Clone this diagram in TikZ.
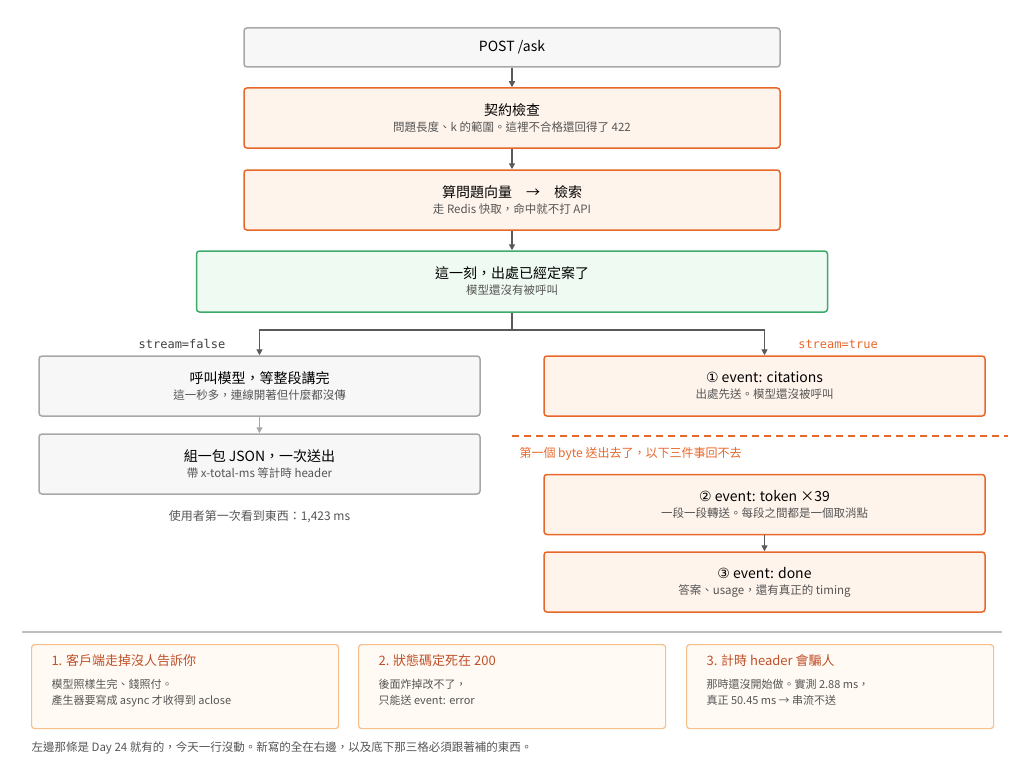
\documentclass[tikz,border=0pt]{standalone}
\usepackage{fontspec}
\setmainfont{Noto Sans CJK TC}
\setmonofont{DejaVu Sans Mono}
\newfontfamily\symfont{DejaVu Sans}
\usetikzlibrary{arrows.meta}
\definecolor{orng}{HTML}{E8672A}
\definecolor{orngfill}{HTML}{FFF4EC}
\definecolor{grayline}{HTML}{A8A8A8}
\definecolor{grayfill}{HTML}{F7F7F7}
\definecolor{grn}{HTML}{3DAA6A}
\definecolor{grnfill}{HTML}{EFFAF2}
\definecolor{cardline}{HTML}{F5C08A}
\definecolor{cardfill}{HTML}{FFFAF3}
\definecolor{cardtitle}{HTML}{C0502A}
\definecolor{subtext}{HTML}{555555}
\newcommand{\ttl}[1]{{\fontsize{14}{17}\selectfont #1}}
\newcommand{\sbt}[1]{{\fontsize{11.5}{14}\selectfont\color{subtext}#1}}
\newcommand{\boxtext}[2]{\ttl{#1}\\[4pt]\sbt{#2}}
\begin{document}
\begin{tikzpicture}[x=1pt,y=-1pt,
    box/.style={rectangle, rounded corners=3pt, draw=orng, fill=orngfill, line width=1.5pt, align=center, minimum width=536pt, minimum height=60pt},
    graybox/.style={box, draw=grayline, fill=grayfill},
    grnbox/.style={box, draw=grn, fill=grnfill, minimum width=631pt, minimum height=61pt},
    sidebox/.style={minimum width=441pt},
    card/.style={rectangle, rounded corners=3pt, draw=cardline, fill=cardfill, line width=1.2pt, minimum width=307pt, minimum height=84pt},
    arr/.style={-{Triangle[length=6pt,width=6pt]}, line width=1.4pt, draw=black!65},
    note/.style={font=\fontsize{12}{14}\selectfont, text=subtext}
]
    \useasboundingbox (0,0) rectangle (1024,773);

    \node[graybox, minimum height=39pt] (post) at (512,47.5) {\ttl{POST /ask}};
    \node[box] (check) at (512,118) {\boxtext{契約檢查}{問題長度、k 的範圍。這裡不合格還回得了 422}};
    \node[box] (embed) at (512,200) {\boxtext{算問題向量\quad →\quad 檢索}{走 Redis 快取，命中就不打 API}};
    \node[grnbox] (fixed) at (512,281.5) {\boxtext{這一刻，出處已經定案了}{模型還沒有被呼叫}};

    \draw[arr] (post) -- (check);
    \draw[arr] (check) -- (embed);
    \draw[arr] (embed) -- (fixed);

    % two branches
    \coordinate (split) at (512,330);
    \node[graybox, sidebox] (call) at (259.5,386) {\boxtext{呼叫模型，等整段講完}{這一秒多，連線開著但什麼都沒傳}};
    \node[graybox, sidebox] (json) at (259.5,464) {\boxtext{組一包 JSON，一次送出}{帶 x-total-ms 等計時 header}};
    \node[box, sidebox] (cite) at (764.5,386) {\boxtext{{\symfont ①} event: citations}{出處先送。模型還沒被呼叫}};
    \node[box, sidebox] (token) at (764.5,504.5) {\boxtext{{\symfont ②} event: token ×39}{一段一段轉送。每段之間都是一個取消點}};
    \node[box, sidebox] (done) at (764.5,582) {\boxtext{{\symfont ③} event: done}{答案、usage，還有真正的 timing}};

    \draw[line width=1.4pt, draw=black!65] (fixed.south) -- (split);
    \draw[arr] (split) -| (call.north);
    \draw[arr] (split) -| (cite.north);
    \draw[arr, draw=grayline] (call) -- (json);
    \draw[arr] (token) -- (done);

    \node[font=\ttfamily\fontsize{12}{14}\selectfont, text=black!75] (lfalse) at (182,344) {stream=false};
    \node[font=\ttfamily\fontsize{12}{14}\selectfont, text=orng] (ltrue) at (838,344) {stream=true};
    \node[note] (firstseen) at (259.5,517) {使用者第一次看到東西：1,423 ms};

    \coordinate (cutl) at (512,436);
    \coordinate (cutr) at (1008,436);
    \draw[orng, line width=1.5pt, dash pattern=on 7pt off 5pt] (cutl) -- (cutr);
    \node[note, text=orng, anchor=west] (firstbyte) at (516,454) {第一個 byte 送出去了，以下三件事回不去};

    % separator and cards
    \coordinate (sepl) at (22,632);
    \coordinate (sepr) at (1002,632);
    \draw[black!25, line width=1.5pt] (sepl) -- (sepr);

    \foreach \n/\x/\t/\a/\b in {
        c1/31/{1. 客戶端走掉沒人告訴你}/{模型照樣生完、錢照付。}/{產生器要寫成 async 才收得到 aclose},
        c2/358/{2. 狀態碼定死在 200}/{後面炸掉改不了，}/{只能送 event: error},
        c3/686/{3. 計時 header 會騙人}/{那時還沒開始做。實測 2.88 ms，}/{真正 50.45 ms → 串流不送}} {
        \node[card, anchor=north west] (\n) at (\x,644) {};
        \node[anchor=west, text=cardtitle, font=\fontsize{13}{16}\selectfont] at (\x+17,661) {\t};
        \node[anchor=north west, align=left, text=subtext, font=\fontsize{11}{16}\selectfont] at (\x+17,676) {\a\\\b};
    }

    \node[note, anchor=west, font=\fontsize{11.5}{14}\selectfont] (foot) at (28,748) {左邊那條是 Day 24 就有的，今天一行沒動。新寫的全在右邊，以及底下那三格必須跟著補的東西。};
\end{tikzpicture}
\end{document}
